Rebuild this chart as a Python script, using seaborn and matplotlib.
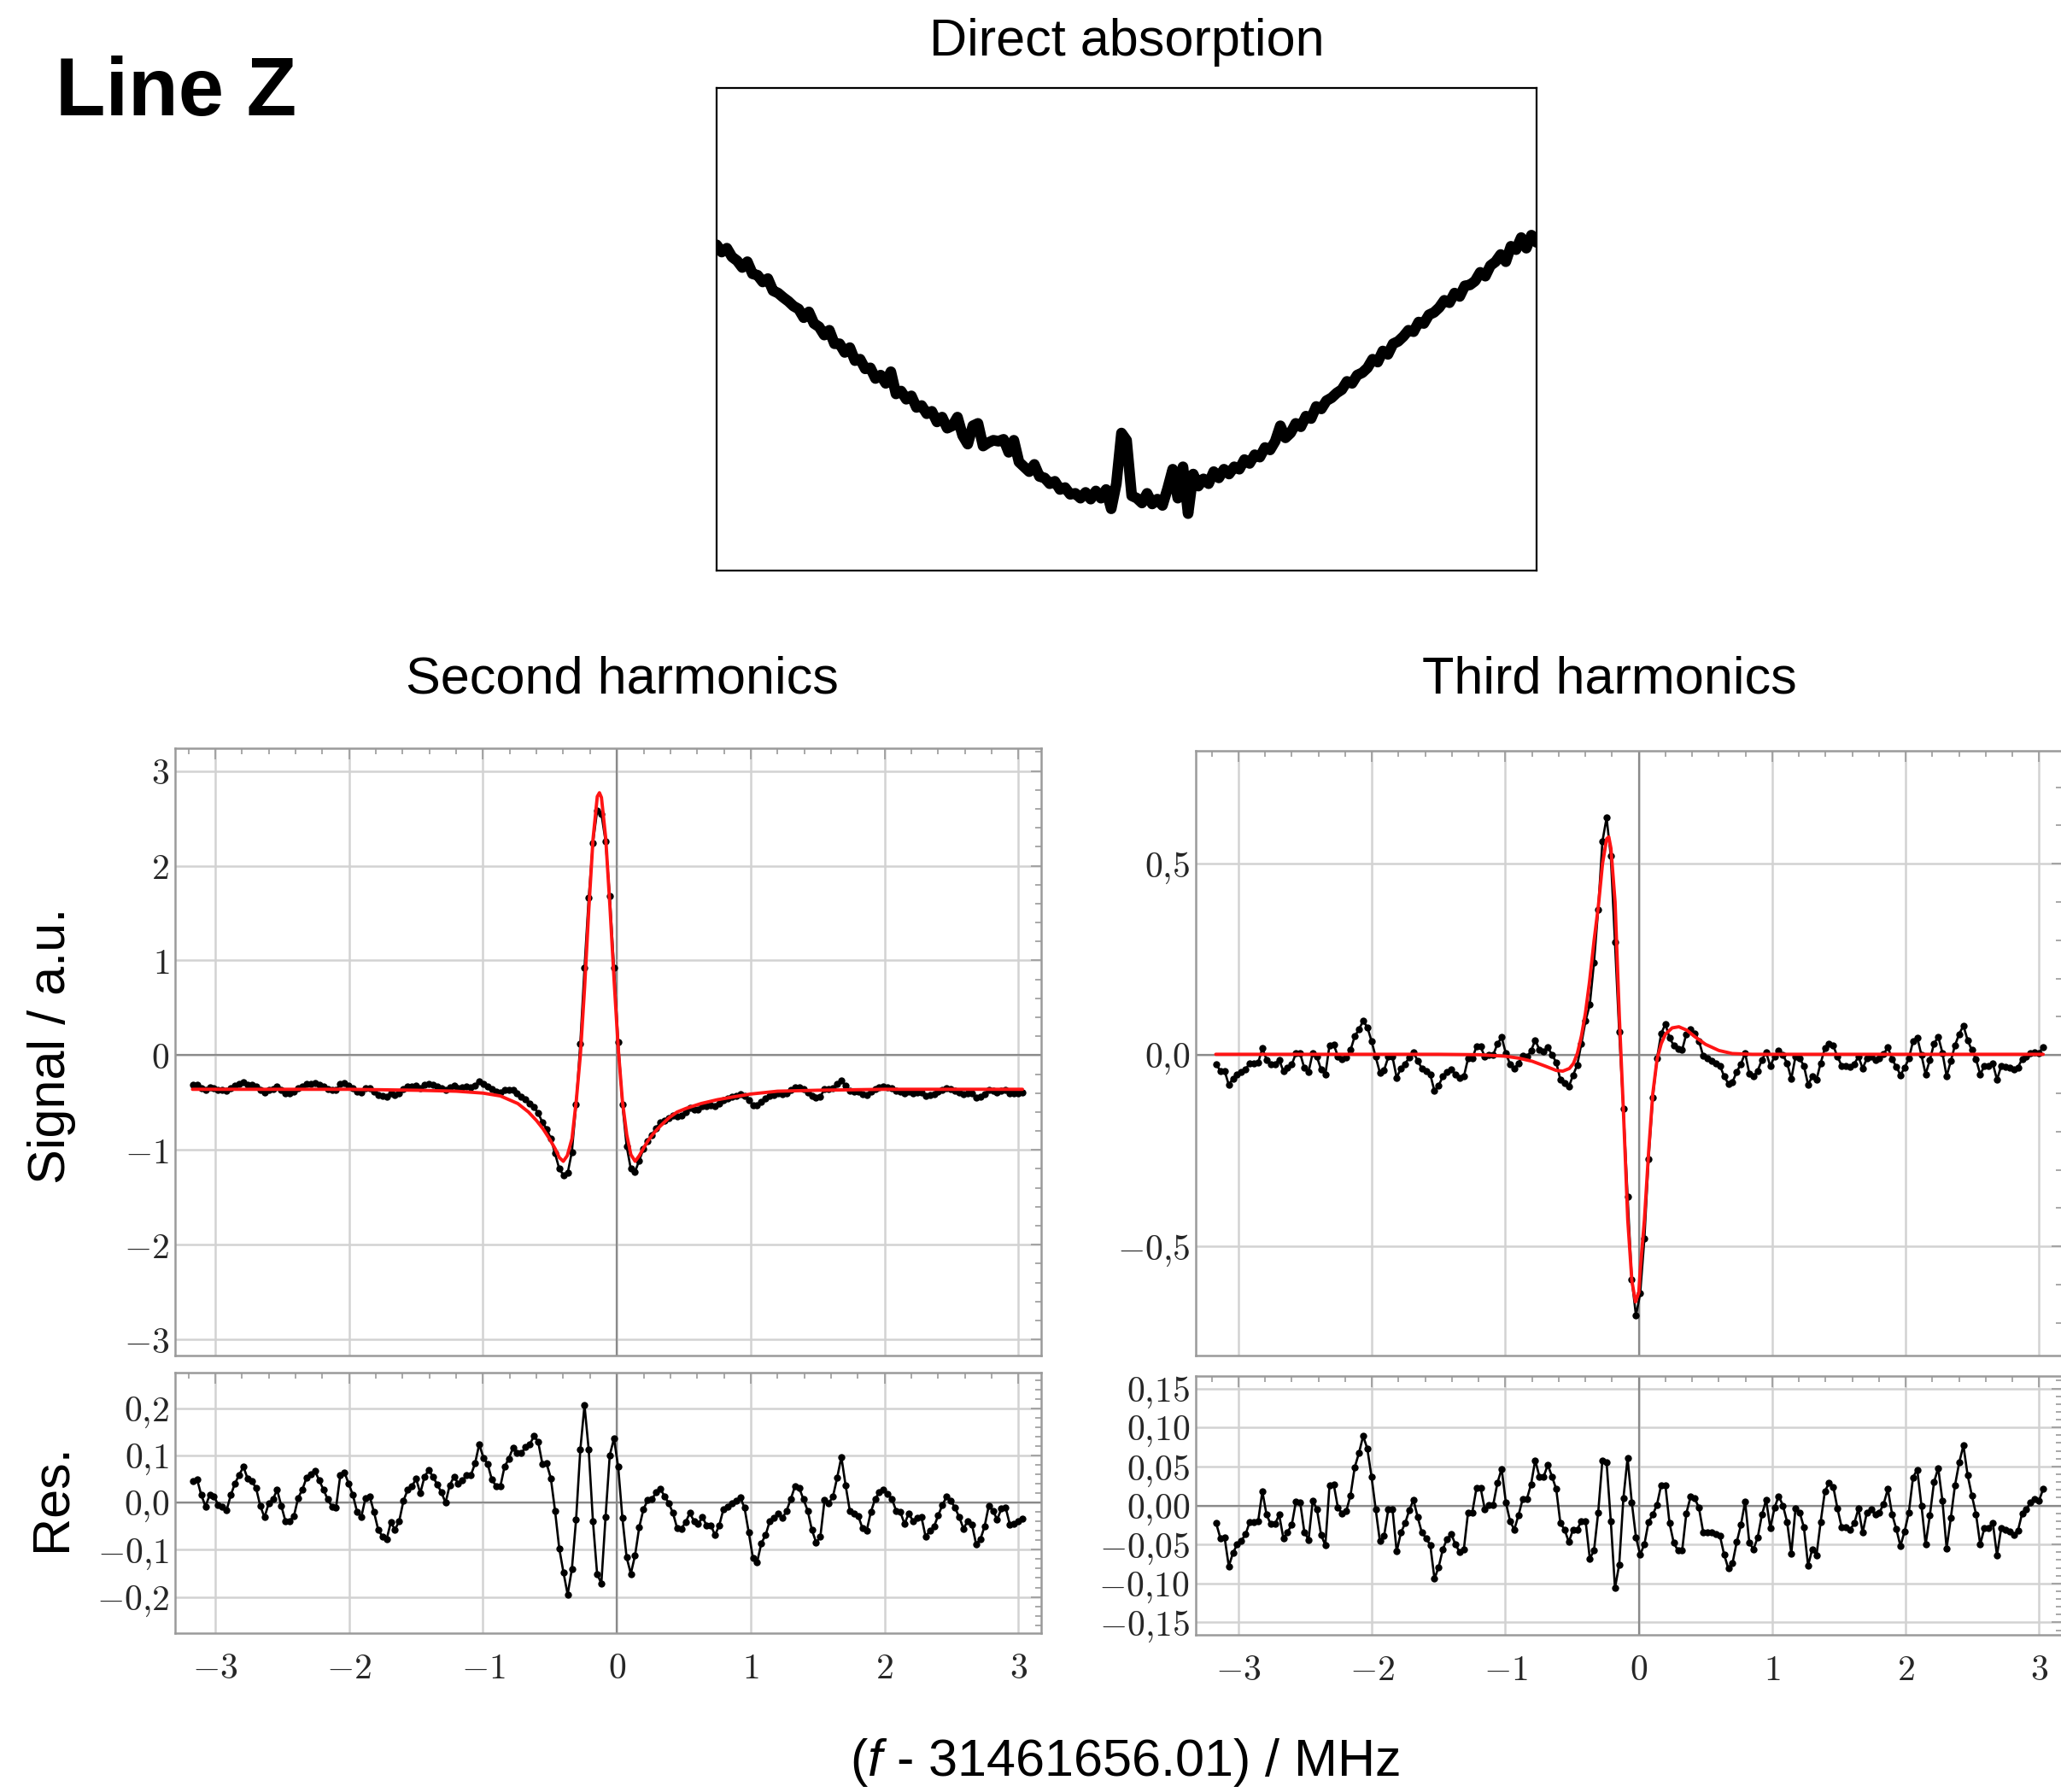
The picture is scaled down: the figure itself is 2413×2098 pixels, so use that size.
import numpy as np
import matplotlib
matplotlib.use('Agg')
import matplotlib.pyplot as plt
import matplotlib.ticker as mticker
import seaborn as sns

sns.set_style('white')
plt.rcParams['font.family'] = ['Liberation Sans', 'DejaVu Sans']
plt.rcParams['mathtext.fontset'] = 'custom'
plt.rcParams['mathtext.rm'] = 'cmr10'
plt.rcParams['mathtext.it'] = 'Liberation Sans:italic'
plt.rcParams['mathtext.fallback'] = 'cm'
plt.rcParams['axes.unicode_minus'] = True
plt.rcParams['text.color'] = 'black'
plt.rcParams['axes.labelcolor'] = 'black'

# ---------------- data ----------------
# direct absorption (relative units, no scale shown)
abs_y = [0.675, 0.660, 0.668, 0.650, 0.642, 0.628, 0.640, 0.615, 0.612, 0.598,
         0.605, 0.580, 0.575, 0.566, 0.558, 0.548, 0.542, 0.524, 0.536, 0.512,
         0.505, 0.488, 0.498, 0.470, 0.470, 0.452, 0.462, 0.435, 0.438, 0.418,
         0.420, 0.398, 0.405, 0.388, 0.412, 0.366, 0.372, 0.355, 0.362, 0.338,
         0.342, 0.325, 0.330, 0.308, 0.318, 0.295, 0.300, 0.318, 0.280, 0.262,
         0.300, 0.305, 0.258, 0.265, 0.270, 0.268, 0.272, 0.245, 0.270, 0.225,
         0.215, 0.205, 0.220, 0.195, 0.192, 0.180, 0.185, 0.168, 0.172, 0.158,
         0.160, 0.150, 0.162, 0.148, 0.165, 0.150, 0.168, 0.128, 0.180, 0.285,
         0.270, 0.155, 0.150, 0.140, 0.160, 0.138, 0.148, 0.135, 0.170, 0.210,
         0.150, 0.215, 0.118, 0.200, 0.175, 0.190, 0.180, 0.205, 0.192, 0.210,
         0.200, 0.215, 0.210, 0.230, 0.222, 0.240, 0.235, 0.255, 0.250, 0.268,
         0.300, 0.275, 0.285, 0.305, 0.298, 0.320, 0.315, 0.340, 0.335, 0.352,
         0.358, 0.368, 0.375, 0.392, 0.388, 0.405, 0.410, 0.420, 0.438, 0.432,
         0.455, 0.448, 0.470, 0.475, 0.485, 0.498, 0.495, 0.515, 0.512, 0.530,
         0.535, 0.545, 0.560, 0.555, 0.575, 0.568, 0.590, 0.592, 0.600, 0.618,
         0.610, 0.632, 0.640, 0.655, 0.640, 0.672, 0.665, 0.690, 0.668, 0.695,
         0.680]
abs_x = np.linspace(0.0, 1.0, len(abs_y))

# frequency grid of the harmonic scans (MHz)
freq = np.linspace(-3.167, 3.03, 198)

# second harmonic signal
sig2 = [-0.314, -0.311, -0.344, -0.368, -0.343, -0.346, -0.365, -0.368, -0.376, -0.344,
        -0.319, -0.301, -0.284, -0.309, -0.315, -0.329, -0.367, -0.391, -0.362, -0.353,
        -0.333, -0.367, -0.400, -0.399, -0.388, -0.350, -0.332, -0.307, -0.299, -0.293,
        -0.313, -0.332, -0.353, -0.368, -0.370, -0.302, -0.296, -0.320, -0.344, -0.380,
        -0.390, -0.350, -0.347, -0.380, -0.417, -0.432, -0.438, -0.402, -0.417, -0.399,
        -0.356, -0.333, -0.326,
        -0.319, -0.350, -0.315, -0.301, -0.315, -0.331, -0.348, -0.370,
        -0.343, -0.325, -0.344, -0.343, -0.332, -0.337, -0.317, -0.276,
        -0.305, -0.328, -0.361, -0.385, -0.396, -0.364, -0.367, -0.364, -0.404, -0.435,
        -0.462, -0.506, -0.549, -0.611, -0.708, -0.777, -0.878, -1.037, -1.197,
        -1.268, -1.245, -1.02, -0.52, 0.12, 0.92, 1.66, 2.24, 2.58, 2.55,
        2.26, 1.68, 0.92, 0.14, -0.52, -0.96, -1.20, -1.23,
        -1.11, -0.99, -0.91, -0.84, -0.77, -0.71, -0.69, -0.66, -0.64, -0.65,
        -0.64, -0.60, -0.56, -0.57, -0.57, -0.54, -0.54, -0.53, -0.54, -0.51,
        -0.47, -0.46, -0.44, -0.43, -0.41, -0.43, -0.47, -0.53, -0.53, -0.49,
        -0.46, -0.43, -0.42,
        -0.40, -0.41, -0.40, -0.37, -0.34, -0.34, -0.36, -0.39, -0.43, -0.45, -0.44,
        -0.355, -0.361, -0.347, -0.307, -0.263, -0.323, -0.377, -0.383, -0.388, -0.414,
        -0.420, -0.380, -0.353, -0.338, -0.333, -0.341, -0.352, -0.377, -0.380, -0.405,
        -0.383, -0.399, -0.393, -0.390, -0.432, -0.420, -0.411, -0.387, -0.365, -0.347,
        -0.356, -0.371, -0.391, -0.415, -0.399, -0.406, -0.448, -0.438, -0.411, -0.367,
        -0.377, -0.396, -0.373, -0.370, -0.406, -0.405, -0.400, -0.394]

# second harmonic fit
fit2_x = [-3.17, -2.5, -2.0, -1.5, -1.2, -1.0, -0.87, -0.74, -0.66, -0.6, -0.55, -0.5,
          -0.46, -0.43, -0.40, -0.37, -0.335, -0.303, -0.272, -0.241, -0.209, -0.178,
          -0.146, -0.13, -0.115, -0.083, -0.052, -0.02, 0.011, 0.042, 0.074, 0.105,
          0.137, 0.168, 0.2, 0.23, 0.26, 0.29, 0.33, 0.39, 0.45, 0.52, 0.63, 0.75,
          0.87, 1.0, 1.2, 1.5, 2.0, 2.5, 3.03]
fit2_y = [-0.36, -0.36, -0.36, -0.37, -0.38, -0.40, -0.43, -0.51, -0.60, -0.69, -0.78, -0.89,
          -0.99, -1.08, -1.12, -1.06, -0.88, -0.48, 0.01, 0.71, 1.55, 2.28,
          2.73, 2.77, 2.72, 2.29, 1.58, 0.78, 0.06, -0.49, -0.84, -1.05,
          -1.12, -1.06, -0.98, -0.91, -0.85, -0.80, -0.74, -0.66, -0.60, -0.56, -0.51, -0.47,
          -0.44, -0.41, -0.38, -0.37, -0.36, -0.36, -0.36]

# second harmonic residuals
res2 = [0.046, 0.049, 0.016, -0.008, 0.017, 0.014, -0.005, -0.008, -0.016, 0.016,
        0.041, 0.059, 0.076, 0.051, 0.045, 0.031, -0.007, -0.031, -0.002, 0.007,
        0.027, -0.007, -0.040, -0.039, -0.028, 0.010, 0.028, 0.053, 0.061, 0.067,
        0.047, 0.028, 0.007, -0.008, -0.010, 0.058, 0.064, 0.040, 0.016, -0.020,
        -0.030, 0.010, 0.013, -0.020, -0.057, -0.072, -0.078, -0.042, -0.057, -0.039,
        0.004, 0.027, 0.034, 0.051, 0.020, 0.055, 0.069, 0.055, 0.039, 0.022,
        0.000, 0.037, 0.055, 0.041, 0.047, 0.058, 0.058, 0.083, 0.124,
        0.095, 0.082, 0.049, 0.035, 0.034, 0.076, 0.093, 0.116, 0.106, 0.105,
        0.118, 0.124, 0.141, 0.129, 0.082, 0.083, 0.052, -0.017, -0.097, -0.148,
        -0.195, -0.141, -0.036, 0.112, 0.207, 0.112, -0.039, -0.152, -0.171, -0.030,
        0.101, 0.136, 0.076, -0.033, -0.116, -0.151, -0.112, -0.052, -0.014, 0.005,
        0.007, 0.022, 0.029, 0.014, -0.001, -0.022, -0.054, -0.055, -0.042, -0.022,
        -0.039, -0.045, -0.031, -0.048, -0.048, -0.069, -0.048, -0.014, -0.008, -0.002,
        0.004, 0.011, -0.011, -0.063, -0.118, -0.126, -0.086, -0.069, -0.039, -0.033,
        -0.023, -0.033, -0.017, 0.008, 0.035, 0.031, 0.007, -0.017, -0.058, -0.084,
        -0.073, 0.005, -0.001, 0.013, 0.053, 0.097, 0.037, -0.017, -0.023, -0.028,
        -0.054, -0.060, -0.020, 0.007, 0.022, 0.027, 0.019, 0.008, -0.017, -0.020,
        -0.045, -0.023, -0.039, -0.033, -0.030, -0.072, -0.060, -0.051, -0.027, -0.005,
        0.013, 0.004, -0.011, -0.031, -0.055, -0.039, -0.046, -0.088, -0.078, -0.051,
        -0.007, -0.017, -0.036, -0.013, -0.010, -0.046, -0.045, -0.040, -0.034]

# third harmonic signal
sig3 = [-0.023, -0.042, -0.041, -0.078, -0.061, -0.050, -0.045, -0.037, -0.021, -0.021,
        -0.020, 0.018, -0.012, -0.024, -0.024, -0.012, -0.042, -0.034, -0.025, 0.005,
        0.004, -0.034, -0.044, 0.006, -0.005, -0.038, -0.051, 0.026, 0.027, -0.003,
        -0.010, -0.007, 0.013, 0.049, 0.067, 0.089, 0.073, 0.037, -0.005, -0.046,
        -0.039, -0.005, -0.005, -0.059, -0.035, -0.023, -0.006, 0.007, -0.015, -0.035,
        -0.042, -0.051, -0.094, -0.079, -0.056, -0.043, -0.037, -0.050, -0.060, -0.056,
        -0.009, -0.009, 0.022, 0.022, -0.005, 0.001, 0.001, 0.029, 0.047, 0.004,
        -0.023, -0.036, -0.021, -0.002, -0.005, 0.011, 0.039, 0.014, 0.010, 0.020,
        0.001, -0.019, -0.065, -0.072, -0.083, -0.053, -0.026, 0.030, 0.090, 0.132,
        0.242, 0.381, 0.558, 0.620, 0.520, 0.294, 0.061, -0.141, -0.369, -0.586,
        -0.681, -0.623, -0.480, -0.271, -0.112, -0.009, 0.056, 0.081, 0.045, 0.025,
        0.016, 0.014, 0.055, 0.068, 0.057, 0.037, -0.002, -0.009, -0.015, -0.022,
        -0.028, -0.055, -0.075, -0.070, -0.044, -0.023,
        0.005, -0.048, -0.056, -0.041, -0.012, 0.007, -0.029, -0.003,
        0.012, 0.000, -0.021, -0.062, -0.004, -0.009, -0.028, -0.077, -0.056, -0.064,
        -0.021, 0.018, 0.029, 0.024, -0.004, -0.028, -0.028, -0.031, -0.023, -0.004,
        -0.035, -0.009, -0.005, -0.012, -0.009, 0.002, 0.021, -0.011, -0.030, -0.052,
        -0.033, -0.009, 0.036, 0.046, 0.000, -0.050, -0.013, 0.030, 0.048, 0.006,
        -0.055, -0.016, 0.026, 0.055, 0.077, 0.039, 0.013, -0.011, -0.050, -0.029,
        -0.029, -0.022, -0.064, -0.029, -0.031, -0.033, -0.038, -0.032, -0.010, -0.005,
        0.004, 0.008, 0.006, 0.021]

# third harmonic fit
fit3_x = [-3.17, -1.5, -1.2, -1.0, -0.9, -0.8, -0.7, -0.62, -0.57, -0.52, -0.49, -0.46,
          -0.43, -0.40, -0.37, -0.335, -0.303, -0.272, -0.241, -0.225, -0.209, -0.178,
          -0.146, -0.115, -0.083, -0.052, -0.025, 0.0, 0.011, 0.042, 0.074, 0.105,
          0.137, 0.168, 0.2, 0.25, 0.3, 0.36, 0.42, 0.5, 0.6, 0.7, 0.85, 1.0, 3.03]
fit3_y = [0.002, 0.002, 0.001, -0.003, -0.008, -0.016, -0.029, -0.040, -0.042, -0.035, -0.022, 0.005,
          0.05, 0.11, 0.19, 0.30, 0.39, 0.50, 0.565, 0.57, 0.54, 0.40,
          0.10, -0.15, -0.43, -0.59, -0.645, -0.62, -0.56, -0.43, -0.25, -0.10,
          -0.01, 0.03, 0.055, 0.071, 0.074, 0.065, 0.048, 0.028, 0.012, 0.004, 0.002, 0.002, 0.002]

# third harmonic residuals
res3 = [-0.023, -0.042, -0.041, -0.078, -0.061, -0.050, -0.045, -0.037, -0.021, -0.021,
        -0.020, 0.018, -0.012, -0.024, -0.024, -0.012, -0.042, -0.034, -0.025, 0.005,
        0.004, -0.034, -0.044, 0.006, -0.005, -0.038, -0.051, 0.026, 0.027, -0.003,
        -0.010, -0.007, 0.013, 0.049, 0.067, 0.089, 0.073, 0.037, -0.005, -0.046,
        -0.039, -0.005, -0.005, -0.059, -0.035, -0.023, -0.006, 0.007, -0.015, -0.035,
        -0.042, -0.051, -0.094, -0.079, -0.056, -0.043, -0.037, -0.050, -0.060, -0.056,
        -0.009, -0.009, 0.022, 0.022, -0.005,
        0.001, 0.001, 0.029, 0.047, 0.004, -0.020, -0.031, -0.013, 0.008, 0.008,
        0.027, 0.058, 0.037, 0.037, 0.052, 0.037, 0.021, -0.023, -0.031, -0.047,
        -0.031, -0.031, -0.020, -0.020, -0.068, -0.058, -0.009, 0.058, 0.055, -0.020,
        -0.106, -0.076, 0.009, 0.061, 0.004, -0.041, -0.063, -0.050, -0.021, -0.012,
        0.001, 0.026, 0.026, -0.023, -0.048, -0.058, -0.058, -0.010, 0.011, 0.009,
        -0.003, -0.034, -0.034, -0.035, -0.037, -0.039, -0.063, -0.081, -0.074, -0.047,
        -0.025, 0.005, -0.048, -0.056, -0.041, -0.012, 0.007, -0.029, -0.003,
        0.012, 0.000, -0.021, -0.062, -0.004, -0.009, -0.028, -0.077, -0.056, -0.064,
        -0.021, 0.018, 0.029, 0.024, -0.004, -0.028, -0.028, -0.031, -0.023, -0.004,
        -0.035, -0.009, -0.005, -0.012, -0.009, 0.002, 0.021, -0.011, -0.030, -0.052,
        -0.033, -0.009, 0.036, 0.046, 0.000, -0.050, -0.013, 0.030, 0.048, 0.006,
        -0.055, -0.016, 0.026, 0.055, 0.077, 0.039, 0.013, -0.011, -0.050, -0.029,
        -0.029, -0.022, -0.064, -0.029, -0.031, -0.033, -0.038, -0.032, -0.010, -0.005,
        0.004, 0.008, 0.006, 0.021]

x_ticks = [-3, -2, -1, 0, 1, 2, 3]
y_ticks_sig2 = [-3, -2, -1, 0, 1, 2, 3]
y_ticks_res2 = [-0.2, -0.1, 0.0, 0.1, 0.2]
y_ticks_sig3 = [-0.5, 0.0, 0.5]
y_ticks_res3 = [-0.15, -0.10, -0.05, 0.0, 0.05, 0.10, 0.15]

# ---------------- figure ----------------
W, H = 2413, 2098
fig = plt.figure(figsize=(W / 100, H / 100), dpi=100)


def rect(l, t, r, b):
    return [l / W, 1 - b / H, (r - l) / W, (b - t) / H]


def fmt_factory(dec):
    def f(v, pos):
        if abs(v) < 1e-9:
            v = 0.0
        s = f"{abs(v):.{dec}f}".replace('.', '{,}')
        sign = '-' if v < 0 else ''
        return f"${sign}{s}$"
    return mticker.FuncFormatter(f)


FRAME = '#9a9a9a'
GRID = '#d2d2d2'
ZERO = '#8a8a8a'


def style(ax, xlim, ylim, yticks, yminor, ydec, show_x):
    ax.set_xlim(*xlim)
    ax.set_ylim(*ylim)
    ax.xaxis.set_major_locator(mticker.FixedLocator(x_ticks))
    ax.xaxis.set_minor_locator(mticker.MultipleLocator(0.2))
    ax.yaxis.set_major_locator(mticker.FixedLocator(yticks))
    ax.yaxis.set_minor_locator(mticker.MultipleLocator(yminor))
    ax.xaxis.set_major_formatter(fmt_factory(0))
    ax.yaxis.set_major_formatter(fmt_factory(ydec))
    ax.grid(True, which='major', color=GRID, linewidth=1.8)
    ax.set_axisbelow(True)
    ax.axhline(0, color=ZERO, linewidth=1.6, zorder=1.5)
    ax.axvline(0, color=ZERO, linewidth=1.6, zorder=1.5)
    ax.tick_params(which='both', direction='in', top=True, right=True,
                   color=FRAME, width=1.2)
    ax.tick_params(which='major', length=9)
    ax.tick_params(which='minor', length=5)
    ax.tick_params(axis='y', labelsize=30, labelcolor='#262626', pad=5)
    ax.tick_params(axis='x', labelsize=30, labelcolor='#262626', pad=16,
                   labelbottom=show_x)
    for sp in ax.spines.values():
        sp.set_color(FRAME)
        sp.set_linewidth(1.8)
    ax.set_xlabel('')
    ax.set_ylabel('')


DOT = dict(color='black', marker='o', markersize=6, markeredgewidth=0,
           linewidth=1.9, estimator=None, sort=False, zorder=3)
FIT = dict(color='#ff1414', linewidth=2.8, estimator=None, sort=False, zorder=4)

# top panel: direct absorption
ax_top = fig.add_axes(rect(839, 103, 1799, 668))
sns.lineplot(x=abs_x, y=abs_y, ax=ax_top, color='black', linewidth=9,
             estimator=None, sort=False)
ax_top.set_xlim(0, 1)
ax_top.set_ylim(0, 1)
ax_top.set_xticks([])
ax_top.set_yticks([])
ax_top.set_xlabel('')
ax_top.set_ylabel('')
for sp in ax_top.spines.values():
    sp.set_color('black')
    sp.set_linewidth(1.6)

# second harmonics
ax_l = fig.add_axes(rect(205, 876, 1219, 1587))
sns.lineplot(x=freq, y=sig2, ax=ax_l, **DOT)
sns.lineplot(x=fit2_x, y=fit2_y, ax=ax_l, **FIT)
style(ax_l, (-3.30, 3.17), (-3.17, 3.24), y_ticks_sig2, 0.2, 0, False)

ax_lr = fig.add_axes(rect(205, 1607, 1219, 1912))
sns.lineplot(x=freq, y=res2, ax=ax_lr, **DOT)
style(ax_lr, (-3.30, 3.17), (-0.277, 0.276), y_ticks_res2, 0.02, 1, True)

# third harmonics
ax_r = fig.add_axes(rect(1400, 879, 2414, 1587))
sns.lineplot(x=freq, y=sig3, ax=ax_r, **DOT)
sns.lineplot(x=fit3_x, y=fit3_y, ax=ax_r, **FIT)
style(ax_r, (-3.32, 3.17), (-0.785, 0.795), y_ticks_sig3, 0.1, 1, False)

ax_rr = fig.add_axes(rect(1400, 1611, 2414, 1914))
sns.lineplot(x=freq, y=res3, ax=ax_rr, **DOT)
style(ax_rr, (-3.32, 3.17), (-0.166, 0.166), y_ticks_res3, 0.01, 2, True)

# texts
fig.text(65 / W, 1 - 135 / H, 'Line Z', fontsize=69, fontweight='bold',
         ha='left', va='baseline', color='black')
fig.text(1319 / W, 1 - 65 / H, 'Direct absorption', fontsize=44,
         ha='center', va='baseline', color='black')
fig.text(728 / W, 1 - 811 / H, 'Second harmonics', fontsize=44,
         ha='center', va='baseline', color='black')
fig.text(1884 / W, 1 - 811 / H, 'Third harmonics', fontsize=44,
         ha='center', va='baseline', color='black')
fig.text(61 / W, 1 - 1224 / H, 'Signal / a.u.', fontsize=44, rotation=90,
         ha='center', va='center', color='black')
fig.text(61 / W, 1 - 1753 / H, 'Res.', fontsize=44, rotation=90,
         ha='center', va='center', color='black')
fig.text(1317 / W, 1 - 2064 / H, r'($\mathit{f}$ - 31461656.01) / MHz',
         fontsize=44, ha='center', va='center', color='black')

fig.savefig('out.png', dpi=100)
